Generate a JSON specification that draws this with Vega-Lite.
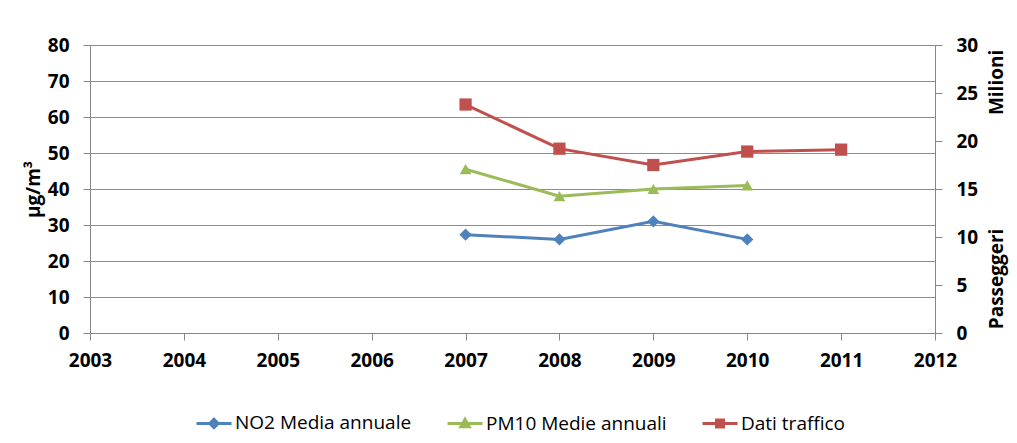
{
  "$schema": "https://vega.github.io/schema/vega-lite/v6.json",
  "width": 845,
  "height": 288,
  "autosize": {"type": "none"},
  "padding": {"left": 90, "top": 45, "right": 82, "bottom": 110},
  "background": "white",
  "config": {
    "font": "Open Sans",
    "view": {"stroke": null},
    "axis": {
      "domainColor": "#878787",
      "tickColor": "#878787",
      "gridColor": "#8c8c8c",
      "tickSize": 7,
      "labelFont": "Open Sans",
      "labelFontSize": 19,
      "labelFontWeight": "bold",
      "labelColor": "#000000",
      "titleFont": "Open Sans",
      "titleFontSize": 19,
      "titleFontWeight": "bold",
      "titleColor": "#000000"
    }
  },
  "data": {
    "values": [
      {"year": 2007, "series": "NO2 Media annuale", "value": 27.3},
      {"year": 2008, "series": "NO2 Media annuale", "value": 26},
      {"year": 2009, "series": "NO2 Media annuale", "value": 31},
      {"year": 2010, "series": "NO2 Media annuale", "value": 26},
      {"year": 2007, "series": "PM10 Medie annuali", "value": 45.5},
      {"year": 2008, "series": "PM10 Medie annuali", "value": 38},
      {"year": 2009, "series": "PM10 Medie annuali", "value": 40},
      {"year": 2010, "series": "PM10 Medie annuali", "value": 41},
      {"year": 2007, "series": "Dati traffico", "value": 23.8},
      {"year": 2008, "series": "Dati traffico", "value": 19.2},
      {"year": 2009, "series": "Dati traffico", "value": 17.5},
      {"year": 2010, "series": "Dati traffico", "value": 18.9},
      {"year": 2011, "series": "Dati traffico", "value": 19.1}
    ]
  },
  "encoding": {
    "x": {
      "field": "year",
      "type": "quantitative",
      "scale": {"domain": [2003, 2012], "nice": false, "zero": false},
      "axis": {
        "title": null,
        "values": [2003, 2004, 2005, 2006, 2007, 2008, 2009, 2010, 2011, 2012],
        "format": "d",
        "grid": false,
        "labelPadding": 11,
        "labelFlush": false
      }
    },
    "color": {
      "field": "series",
      "type": "nominal",
      "scale": {
        "domain": ["NO2 Media annuale", "PM10 Medie annuali", "Dati traffico"],
        "range": ["#4F81BD", "#9BBB59", "#C0504D"]
      },
      "legend": {
        "orient": "none",
        "legendX": 105,
        "legendY": 359,
        "direction": "horizontal",
        "title": null,
        "padding": 0,
        "labelFont": "Open Sans",
        "labelFontSize": 19,
        "labelColor": "#000000",
        "labelLimit": 400,
        "labelOffset": 2,
        "columnPadding": 29,
        "symbolSize": 1225,
        "symbolStrokeWidth": 3,
        "encode": {
          "symbols": {
            "update": {
              "shape": {"signal": "datum.value === 'NO2 Media annuale' ? 'M-1,0H1M0,-0.24L0.24,0L0,0.24L-0.24,0Z' : datum.value === 'PM10 Medie annuali' ? 'M-1,0H1M0,-0.24L0.24,0.18L-0.24,0.18Z' : 'M-1,0H1M-0.2,-0.2H0.2V0.2H-0.2Z'"},
              "fill": {"signal": "datum.value === 'NO2 Media annuale' ? '#4F81BD' : datum.value === 'PM10 Medie annuali' ? '#9BBB59' : '#C0504D'"},
              "stroke": {"signal": "datum.value === 'NO2 Media annuale' ? '#4F81BD' : datum.value === 'PM10 Medie annuali' ? '#9BBB59' : '#C0504D'"},
              "fillOpacity": {"value": 1},
              "strokeOpacity": {"value": 1},
              "strokeWidth": {"value": 3}
            }
          }
        }
      }
    }
  },
  "layer": [
    {
      "transform": [{"filter": "datum.series !== 'Dati traffico'"}],
      "encoding": {
        "y": {
          "field": "value",
          "type": "quantitative",
          "scale": {"domain": [0, 80], "nice": false},
          "axis": {
            "title": "µg/m³",
            "orient": "left",
            "values": [0, 10, 20, 30, 40, 50, 60, 70, 80],
            "grid": true,
            "labelPadding": 14,
            "titlePadding": 4
          }
        }
      },
      "layer": [
        {"mark": {"type": "line", "strokeWidth": 3}},
        {
          "transform": [{"filter": "datum.series === 'NO2 Media annuale'"}],
          "mark": {"type": "point", "shape": "diamond", "filled": true, "opacity": 1, "size": 150}
        },
        {
          "transform": [{"filter": "datum.series === 'PM10 Medie annuali'"}],
          "mark": {"type": "point", "shape": "triangle-up", "filled": true, "opacity": 1, "size": 140}
        }
      ]
    },
    {
      "transform": [{"filter": "datum.series === 'Dati traffico'"}],
      "encoding": {
        "y": {
          "field": "value",
          "type": "quantitative",
          "scale": {"domain": [0, 30], "nice": false},
          "axis": {
            "title": "Passeggeri\u00a0\u00a0\u00a0\u00a0\u00a0\u00a0\u00a0\u00a0\u00a0\u00a0\u00a0\u00a0\u00a0\u00a0\u00a0\u00a0\u00a0\u00a0\u00a0\u00a0\u00a0\u00a0\u00a0Milioni",
            "orient": "right",
            "values": [0, 5, 10, 15, 20, 25, 30],
            "grid": false,
            "labelPadding": 14,
            "titlePadding": 10,
            "titleAngle": 270,
            "titleBaseline": "top",
            "titleLimit": 1000
          }
        }
      },
      "layer": [
        {"mark": {"type": "line", "strokeWidth": 3}},
        {"mark": {"type": "point", "shape": "square", "filled": true, "opacity": 1, "size": 150}}
      ]
    }
  ],
  "resolve": {"scale": {"y": "independent"}}
}
